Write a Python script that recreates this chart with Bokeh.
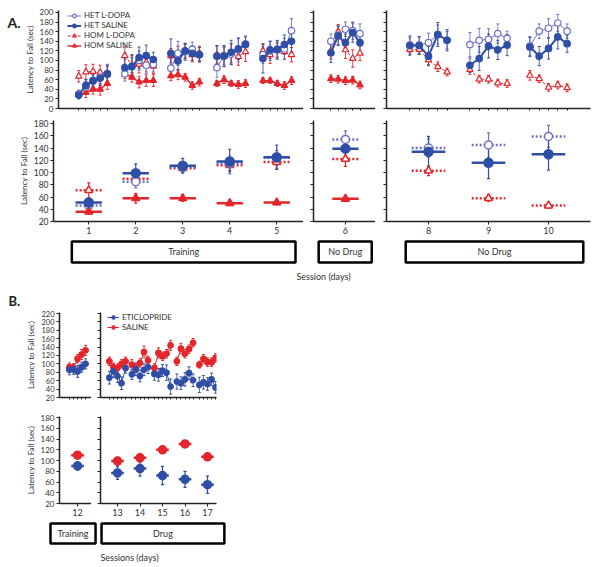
import numpy as np
from bokeh.plotting import figure
from bokeh.layouts import column, row
from bokeh.models import (Range1d, FixedTicker, ColumnDataSource, Whisker, TeeHead,
                          Legend, LegendItem)
from bokeh.core.properties import value
from bokeh.embed import file_html
from bokeh.resources import INLINE

# ---------------- DATA ----------------
TRIALS = [1, 2, 3, 4, 5]

# Panel A, trial-by-trial (top row)
A_TOP_DAYS = [1, 2, 3, 4, 5, 6, 8, 9, 10]
HET_LDOPA_TRIAL = [[30, 45, 57, 65, 72], [72, 88, 100, 90, 92], [84, 115, 118, 123, 112],
                   [85, 110, 113, 122, 133], [112, 120, 122, 124, 162], [140, 153, 165, 162, 156],
                   [132, 132, 137, 154, 142], [133, 142, 144, 156, 146], [130, 161, 167, 178, 161]]
HET_LDOPA_TRIAL_ERR = [[8, 12, 14, 15, 20], [15, 18, 20, 18, 16], [20, 25, 18, 15, 15],
                       [20, 18, 22, 25, 18], [18, 20, 20, 22, 25], [15, 20, 15, 18, 20],
                       [15, 18, 20, 20, 18], [25, 25, 22, 20, 15], [20, 15, 20, 18, 15]]
HET_SALINE_TRIAL = [[28, 48, 58, 63, 72], [85, 87, 106, 110, 102], [115, 99, 120, 115, 112],
                    [109, 109, 117, 124, 134], [104, 122, 123, 133, 140], [116, 151, 137, 158, 137],
                    [131, 131, 109, 154, 142], [90, 104, 130, 122, 132], [128, 109, 125, 149, 135]]
HET_SALINE_TRIAL_ERR = [[8, 12, 12, 15, 18], [18, 25, 22, 22, 15], [30, 18, 15, 15, 15],
                        [22, 22, 25, 22, 15], [30, 18, 18, 20, 22], [20, 20, 18, 20, 22],
                        [20, 18, 20, 25, 22], [15, 25, 25, 20, 22], [20, 20, 22, 25, 18]]
HOM_LDOPA_TRIAL = [[67, 76, 77, 75, 72], [110, 90, 92, 96, 88], [110, 115, 118, 112, 115],
                   [112, 108, 115, 108, 118], [120, 112, 122, 118, 112], [118, 160, 122, 104, 115],
                   [123, 123, 101, 87, 76], [81, 61, 61, 53, 52], [69, 62, 44, 49, 43]]
HOM_LDOPA_TRIAL_ERR = [[12, 15, 15, 15, 15], [18, 20, 18, 20, 15], [15, 15, 15, 15, 15],
                       [18, 20, 20, 18, 20], [15, 18, 15, 15, 15], [15, 15, 18, 18, 15],
                       [10, 10, 10, 10, 8], [10, 8, 8, 8, 8], [10, 8, 8, 8, 8]]
HOM_SALINE_TOP_DAYS = [1, 2, 3, 4, 5, 6]
HOM_SALINE_TRIAL = [[30, 33, 40, 40, 52], [72, 65, 55, 58, 58], [68, 70, 65, 48, 55],
                    [52, 60, 52, 50, 52], [58, 58, 52, 48, 58], [62, 61, 58, 59, 49]]
HOM_SALINE_TRIAL_ERR = [[8, 10, 10, 12, 12], [10, 10, 12, 12, 12], [10, 10, 8, 8, 8],
                        [6, 8, 6, 8, 8], [6, 6, 6, 8, 8], [8, 8, 8, 8, 8]]

# Panel A, session means (bottom row)
A_DAYS = [1, 2, 3, 4, 5, 6, 8, 9, 10]
HET_LDOPA_MEAN = [46, 85, 109, 115, 124, 154, 140, 145, 159]
HET_LDOPA_SEM = [5, 10, 8, 12, 12, 14, 15, 20, 18]
HET_SALINE_MEAN = [51, 99, 111, 118, 125, 139, 134, 116, 130]
HET_SALINE_SEM = [6, 15, 12, 20, 20, 18, 25, 26, 26]
HOM_LDOPA_MEAN = [71, 90, 107, 112, 117, 122, 103, 58, 46]
HOM_LDOPA_SEM = [12, 10, 6, 10, 10, 12, 8, 5, 4]
HOM_SALINE_DAYS = [1, 2, 3, 4, 5, 6]
HOM_SALINE_MEAN = [36, 58, 58, 50, 51, 57]
HOM_SALINE_SEM = [4, 8, 5, 4, 4, 4]

# Panel B
B_DAYS = [12, 13, 14, 15, 16, 17]
ETI_TRIAL = [[86, 87, 82, 92, 100], [67, 82, 71, 54, 90], [75, 87, 71, 86, 92],
             [76, 74, 84, 79, 46], [58, 54, 63, 78, 61], [50, 56, 52, 63, 44]]
ETI_TRIAL_ERR = [[12, 12, 14, 12, 12], [15, 14, 15, 15, 12], [12, 15, 14, 14, 15],
                 [15, 15, 14, 18, 18], [18, 15, 16, 15, 15], [18, 16, 15, 15, 14]]
SAL_TRIAL = [[92, 90, 112, 122, 132], [106, 92, 90, 100, 106], [98, 90, 102, 128, 108],
             [90, 126, 118, 124, 144], [106, 136, 124, 135, 150], [98, 112, 104, 104, 114]]
SAL_TRIAL_ERR = [[10, 10, 10, 12, 12], [10, 10, 10, 10, 10], [12, 10, 10, 14, 10],
                 [10, 12, 10, 10, 12], [10, 12, 10, 10, 10], [8, 10, 10, 10, 10]]
ETI_MEAN = [90, 77, 85, 72, 65, 55]
ETI_SEM = [8, 12, 14, 17, 15, 16]
SAL_MEAN = [110, 99, 105, 120, 131, 107]
SAL_SEM = [6, 7, 8, 6, 4, 5]

A_GROUPS = [("Training", 0, 0.64, 5.4), ("No Drug", 1, 5.43, 6.56), ("No Drug", 2, 7.62, 10.58)]
B_GROUPS = [("Training", 0, 10.8, 12.8), ("Drug", 1, 12.29, 17.75)]

# ---------------- STYLE ----------------
FONT = "Lato"
BLUE = "#2f4ea6"
BLUE_L = "#6b71c6"
RED = "#e3262b"
AXC = "#222222"
TXT = "#333333"
STEP_A = 0.155
STEP_B = 0.18
BAR_HW = 0.28
TAG_W = 21   # width of the strip holding the "A." tag

A_PANELS = [
    dict(days=[1, 2, 3, 4, 5], xr=(0.25, 5.57), fw=250, left=53, bl=53, br=0),
    dict(days=[6], xr=(5.32, 6.64), fw=62, left=313, bl=10, br=0),
    dict(days=[8, 9, 10], xr=(7.3, 10.7), fw=204, left=386, bl=11, br=4),
]
B_PANELS = [
    dict(days=[12], xr=(11.2, 12.62), fw=32, left=59, bl=59, br=0),
    dict(days=[13, 14, 15, 16, 17], xr=(12.244, 17.4), fw=116, left=100, bl=9, br=2),
]


def page_x(panel, d):
    x0, x1 = panel["xr"]
    return panel["left"] + (d - x0) / (x1 - x0) * panel["fw"]


def base_fig(panel, fh, yr, bt, bb, bl):
    p = figure(width=bl + panel["fw"] + panel["br"], height=bt + fh + bb,
               x_range=Range1d(*panel["xr"]), y_range=Range1d(*yr),
               output_backend="svg", toolbar_location=None, title=None,
               min_border_left=bl, min_border_right=panel["br"],
               min_border_top=bt, min_border_bottom=bb)
    p.outline_line_color = None
    p.grid.visible = False
    for ax in p.axis:
        ax.axis_line_color = AXC
        ax.axis_line_width = 1.5
        ax.major_tick_line_color = AXC
        ax.minor_tick_line_color = AXC
        ax.major_tick_out = 3
        ax.major_tick_in = 0
        ax.minor_tick_out = 0
        ax.minor_tick_in = 0
        ax.major_label_text_font = FONT
        ax.major_label_text_color = TXT
        ax.axis_label_text_font = FONT
        ax.axis_label_text_font_style = "normal"
        ax.axis_label_text_color = TXT
    return p


def setup_y(p, ticks, labelled, size, ylabel=None):
    ax = p.yaxis[0]
    if labelled:
        ax.ticker = FixedTicker(ticks=ticks)
        ax.major_label_standoff = 2
        ax.major_label_text_font_size = size
        ax.axis_label = ylabel
        ax.axis_label_text_font_size = "8px"
        ax.axis_label_standoff = 2
    else:
        ax.ticker = FixedTicker(ticks=[], minor_ticks=ticks)
        ax.major_tick_out = 0
        ax.major_label_standoff = 0
        ax.minor_tick_out = 3


def setup_x(p, ticks, labelled, size="9px"):
    ax = p.xaxis[0]
    if labelled:
        ax.ticker = FixedTicker(ticks=ticks)
        ax.major_label_text_font_size = size
        ax.major_label_standoff = 2
    else:
        ax.ticker = FixedTicker(ticks=[], minor_ticks=ticks)
        ax.major_tick_out = 0
        ax.major_label_standoff = 0
        ax.minor_tick_out = 2


def trial_data(days, vals, errs, keep, step):
    xs, ys, ex, ey, lo, up = [], [], [], [], [], []
    for d, v, e in zip(days, vals, errs):
        if d not in keep:
            continue
        for t, yv, ev in zip(TRIALS, v, e):
            x = d + (t - 3) * step
            xs.append(x); ys.append(yv)
            ex.append(x); ey.append(yv); lo.append(yv - ev); up.append(yv + ev)
        xs.append(np.nan); ys.append(np.nan)
    return xs, ys, ex, ey, lo, up


def add_trials(p, days, vals, errs, keep, step, st):
    xs, ys, ex, ey, lo, up = trial_data(days, vals, errs, keep, step)
    if not ex:
        return None
    src = ColumnDataSource(dict(x=ex, lo=lo, up=up))
    p.add_layout(Whisker(source=src, base="x", lower="lo", upper="up", dimension="height",
                         line_color=st["color"], line_width=1, line_alpha=0.85,
                         upper_head=TeeHead(size=3, line_color=st["color"], line_width=1),
                         lower_head=TeeHead(size=3, line_color=st["color"], line_width=1)))
    ln = p.line(xs, ys, line_color=st["lcolor"], line_width=st["lw"], line_dash=st["dash"])
    sc = p.scatter(ex, ey, marker=st["marker"], size=st["size"],
                   line_color=st["color"], fill_color=st["fill"], line_width=1.2)
    return ln, sc


def add_means(p, days, means, sems, keep, st, size):
    sel = [(d, m, s) for d, m, s in zip(days, means, sems) if d in keep]
    if not sel:
        return
    d = [a for a, _, _ in sel]
    m = [b for _, b, _ in sel]
    s = [c for _, _, c in sel]
    src = ColumnDataSource(dict(x=d, y=m, lo=[a - b for a, b in zip(m, s)],
                                up=[a + b for a, b in zip(m, s)],
                                x0=[a - BAR_HW for a in d], x1=[a + BAR_HW for a in d]))
    p.add_layout(Whisker(source=src, base="x", lower="lo", upper="up", dimension="height",
                         line_color=st["color"], line_width=1.2,
                         upper_head=TeeHead(size=3, line_color=st["color"], line_width=1.2),
                         lower_head=TeeHead(size=3, line_color=st["color"], line_width=1.2)))
    p.segment(x0="x0", x1="x1", y0="y", y1="y", source=src, line_color=st["color"],
              line_width=2.5, line_dash=st["bdash"])
    p.scatter("x", "y", source=src, marker=st["marker"], size=size, line_color=st["color"],
              fill_color=st["fill"], line_width=1.5)


def strip(width, x0, y_top, y_bot):
    s = figure(width=width, height=int(y_bot - y_top), x_range=Range1d(x0, x0 + width),
               y_range=Range1d(y_bot, y_top), output_backend="svg", toolbar_location=None,
               title=None, x_axis_location=None, y_axis_location=None, min_border=0)
    s.outline_line_color = None
    s.grid.visible = False
    return s


def add_text(s, x, y, txt, size="9px", align="center", bold=False):
    s.text(x=[x], y=[y], text=[txt], text_align=align, text_baseline="middle",
           text_font=value(FONT), text_font_size=size, text_color="#222222" if bold else TXT,
           text_font_style="bold" if bold else "normal")


S_HET_L = dict(color=BLUE_L, lcolor=BLUE_L, lw=1, dash="solid", marker="circle", size=6.5,
               fill="white", bdash="2 2")
S_HET_S = dict(color=BLUE, lcolor=BLUE, lw=2, dash="solid", marker="circle", size=6.5,
               fill=BLUE, bdash="solid")
S_HOM_L = dict(color=RED, lcolor=RED, lw=1, dash="3 2", marker="triangle", size=6.5,
               fill="white", bdash="2 2")
S_HOM_S = dict(color=RED, lcolor=RED, lw=1.5, dash="solid", marker="triangle", size=6.5,
               fill=RED, bdash="solid")
S_ETI = dict(color=BLUE, lcolor=BLUE, lw=1, dash="solid", marker="circle", size=5.5,
             fill=BLUE, bdash="solid")
S_SAL = dict(color=RED, lcolor=RED, lw=1, dash="solid", marker="circle", size=5.5,
             fill=RED, bdash="solid")

# ---------------- PANEL A, TOP ----------------
tagA = strip(TAG_W, 0, 0, 114)
add_text(tagA, 7, 14, "A.", size="14px", align="left", bold=True)
a_top = [tagA]
for i, pn in enumerate(A_PANELS):
    bl = pn["bl"] - TAG_W if i == 0 else pn["bl"]
    p = base_fig(pn, 98, (0, 204), 10, 6, bl)
    setup_y(p, list(range(0, 201, 20)), i == 0, "8px", "Latency to Fall (sec)")
    setup_x(p, [d + (t - 3) * STEP_A for d in pn["days"] for t in TRIALS], False)
    keep = pn["days"]
    r4 = add_trials(p, HOM_SALINE_TOP_DAYS, HOM_SALINE_TRIAL, HOM_SALINE_TRIAL_ERR, keep, STEP_A, S_HOM_S)
    r3 = add_trials(p, A_TOP_DAYS, HOM_LDOPA_TRIAL, HOM_LDOPA_TRIAL_ERR, keep, STEP_A, S_HOM_L)
    r1 = add_trials(p, A_TOP_DAYS, HET_LDOPA_TRIAL, HET_LDOPA_TRIAL_ERR, keep, STEP_A, S_HET_L)
    r2 = add_trials(p, A_TOP_DAYS, HET_SALINE_TRIAL, HET_SALINE_TRIAL_ERR, keep, STEP_A, S_HET_S)
    if i == 0:
        leg = Legend(items=[LegendItem(label="HET L-DOPA", renderers=list(r1)),
                            LegendItem(label="HET SALINE", renderers=list(r2)),
                            LegendItem(label="HOM L-DOPA", renderers=list(r3)),
                            LegendItem(label="HOM SALINE", renderers=list(r4))],
                     location=(9, 58), padding=0, margin=0, spacing=0, glyph_width=14,
                     glyph_height=9, label_height=9, label_standoff=3,
                     label_text_font=FONT, label_text_font_size="8px", label_text_color=TXT,
                     border_line_alpha=0, background_fill_alpha=0)
        p.add_layout(leg, "center")
    a_top.append(p)

# ---------------- PANEL A, BOTTOM ----------------
a_bot = []
for i, pn in enumerate(A_PANELS):
    p = base_fig(pn, 101, (20, 185), 6, 18, pn["bl"])
    setup_y(p, list(range(20, 181, 20)), i == 0, "8.5px", "Latency to Fall (sec)")
    setup_x(p, pn["days"], True)
    keep = pn["days"]
    add_means(p, A_DAYS, HOM_LDOPA_MEAN, HOM_LDOPA_SEM, keep, S_HOM_L, 8)
    add_means(p, A_DAYS, HET_LDOPA_MEAN, HET_LDOPA_SEM, keep, S_HET_L, 8)
    add_means(p, HOM_SALINE_DAYS, HOM_SALINE_MEAN, HOM_SALINE_SEM, keep, S_HOM_S, 8)
    add_means(p, A_DAYS, HET_SALINE_MEAN, HET_SALINE_SEM, keep, S_HET_S, 9)
    a_bot.append(p)

# strip with group boxes, axis title and the "B." tag
stripA = strip(594, 0, 239, 310)
for name, pi, d0, d1 in A_GROUPS:
    l = page_x(A_PANELS[pi], d0)
    r = page_x(A_PANELS[pi], d1)
    stripA.quad(left=l, right=r, top=241, bottom=262, fill_color=None, line_color="black",
                line_width=2.5)
    add_text(stripA, (l + r) / 2, 251, name)
add_text(stripA, 323, 276, "Session (days)")
add_text(stripA, 8, 300.5, "B.", size="13px", align="left", bold=True)

# ---------------- PANEL B ----------------
b_top = []
for i, pn in enumerate(B_PANELS):
    p = base_fig(pn, 85, (20, 222), 2, 8, pn["bl"])
    setup_y(p, list(range(20, 221, 20)), i == 0, "7.5px", "Latency to Fall (sec)")
    setup_x(p, [d + (t - 3) * STEP_B for d in pn["days"] for t in TRIALS], False)
    keep = pn["days"]
    rs = add_trials(p, B_DAYS, SAL_TRIAL, SAL_TRIAL_ERR, keep, STEP_B, S_SAL)
    re = add_trials(p, B_DAYS, ETI_TRIAL, ETI_TRIAL_ERR, keep, STEP_B, S_ETI)
    if i == 1:
        leg = Legend(items=[LegendItem(label="ETICLOPRIDE", renderers=list(re)),
                            LegendItem(label="SALINE", renderers=list(rs))],
                     location=(7, 65), padding=0, margin=0, spacing=0, glyph_width=12,
                     glyph_height=8, label_height=8, label_standoff=3,
                     label_text_font=FONT, label_text_font_size="8px", label_text_color=TXT,
                     border_line_alpha=0, background_fill_alpha=0)
        p.add_layout(leg, "center")
    b_top.append(p)

b_bot = []
for i, pn in enumerate(B_PANELS):
    p = base_fig(pn, 87, (20, 182), 11, 18, pn["bl"])
    setup_y(p, list(range(20, 181, 20)), i == 0, "8px", "Latency to Fall (sec)")
    setup_x(p, pn["days"], True)
    keep = pn["days"]
    add_means(p, B_DAYS, SAL_MEAN, SAL_SEM, keep, S_SAL, 8)
    add_means(p, B_DAYS, ETI_MEAN, ETI_SEM, keep, S_ETI, 8)
    b_bot.append(p)

stripB = strip(230, 0, 521, 566)
for name, pi, d0, d1 in B_GROUPS:
    l = page_x(B_PANELS[pi], d0)
    r = page_x(B_PANELS[pi], d1)
    stripB.quad(left=l, right=r, top=523, bottom=543, fill_color=None, line_color="black",
                line_width=2.5)
    add_text(stripB, (l + r) / 2, 533, name)
add_text(stripB, 129, 557, "Sessions (days)")

layout = column(row(*a_top), row(*a_bot), stripA, row(*b_top), row(*b_bot), stripB)
open("out.html", "w").write(file_html(layout, INLINE))
